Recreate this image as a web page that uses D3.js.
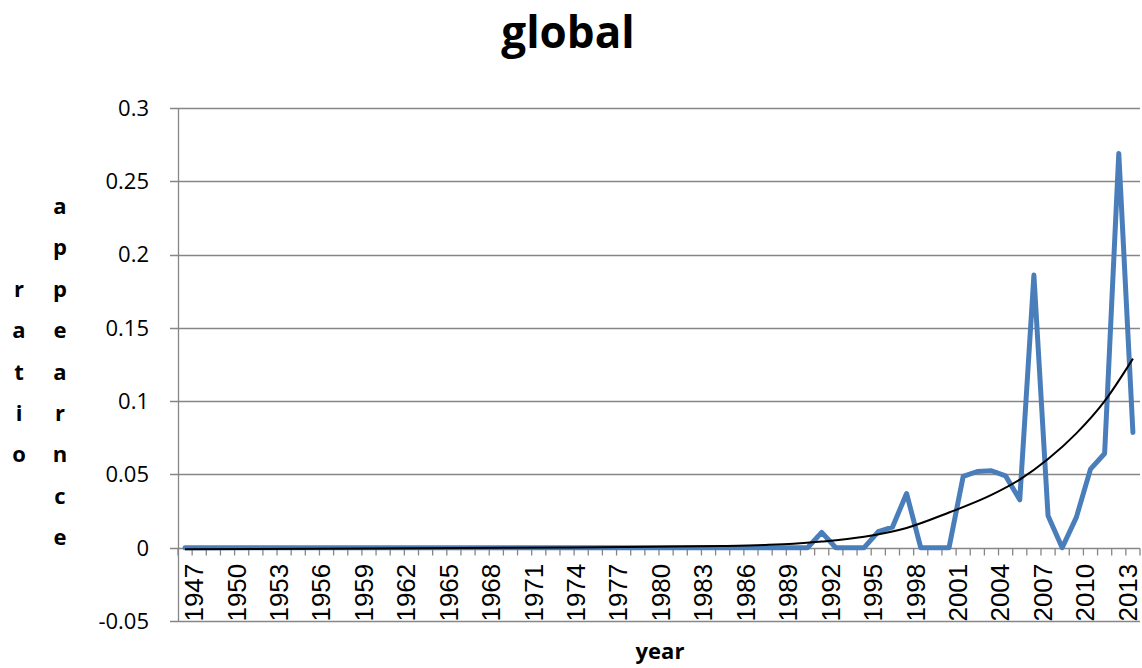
<!DOCTYPE html>
<html>
<head>
<meta charset="utf-8">
<script src="https://cdn.jsdelivr.net/npm/d3@7"></script>
<style>
  html, body { margin: 0; padding: 0; background: #fff; }
  svg { display: block; }
</style>
</head>
<body>
<svg id="chart" width="1142" height="668"></svg>
<script>
// Years on the category axis
const years = d3.range(1947, 2015);

// Share of appearances per year
const ratio = [
  0, 0, 0, 0, 0, 0, 0, 0, 0, 0,            // 1947-1956
  0, 0, 0, 0, 0, 0, 0, 0, 0, 0,            // 1957-1966
  0, 0, 0, 0, 0, 0, 0, 0, 0, 0,            // 1967-1976
  0, 0, 0, 0, 0, 0, 0, 0, 0, 0,            // 1977-1986
  0, 0, 0, 0, 0,                           // 1987-1991
  0.0105, 0, 0, 0, 0.011, 0.014, 0.037,    // 1992-1998
  0, 0, 0, 0.0486, 0.052, 0.0525, 0.049,   // 1999-2005
  0.0327, 0.186, 0.0218, 0, 0.0207,        // 2006-2010
  0.0536, 0.0643, 0.269, 0.0786            // 2011-2014
];

// Trend curve sampled at selected years
const trendYears  = [1947, 1960, 1970, 1980, 1985, 1988, 1990, 1992, 1995, 1998, 2001, 2004, 2006, 2008, 2010, 2012, 2014];
const trendValues = [-0.001, -0.0005, 0, 0.0006, 0.0012, 0.0019, 0.0027, 0.0042, 0.0075, 0.0135, 0.024, 0.036, 0.0465, 0.0605, 0.078, 0.1, 0.129];

// Axis tick labels
const yTicks = [-0.05, 0, 0.05, 0.1, 0.15, 0.2, 0.25, 0.3];
const yTickLabels = ["-0.05", "0", "0.05", "0.1", "0.15", "0.2", "0.25", "0.3"];
const xLabelYears = years.filter(y => (y - 1947) % 3 === 0);

const title = "global";
const xTitle = "year";
const yTitleCols = ["ratio", "appearnce"];

const svg = d3.select("#chart");
const plot = { left: 178, right: 1140, top: 108, bottom: 621 };

const x = d3.scaleBand().domain(years).range([plot.left, plot.right]).padding(0);
const cx = yr => x(yr) + x.bandwidth() / 2;
const y = d3.scaleLinear().domain([-0.05, 0.3]).range([plot.bottom, plot.top]);

const gridColor = "#868686";

// Horizontal gridlines with left tick marks
svg.append("g").selectAll("line").data(yTicks).join("line")
  .attr("x1", plot.left - 8).attr("x2", plot.right)
  .attr("y1", d => Math.round(y(d)) + 0.5).attr("y2", d => Math.round(y(d)) + 0.5)
  .attr("stroke", gridColor).attr("stroke-width", 1.3);

// Vertical value axis line
svg.append("line")
  .attr("x1", plot.left + 0.5).attr("x2", plot.left + 0.5)
  .attr("y1", plot.top).attr("y2", plot.bottom)
  .attr("stroke", gridColor).attr("stroke-width", 1.3);

// Category tick marks along the zero line
const y0 = Math.round(y(0)) + 0.5;
svg.append("g").selectAll("line").data(years.concat([null])).join("line")
  .attr("x1", (d, i) => plot.left + i * x.bandwidth())
  .attr("x2", (d, i) => plot.left + i * x.bandwidth())
  .attr("y1", y0).attr("y2", y0 + 7)
  .attr("stroke", gridColor).attr("stroke-width", 1.3);

// Y tick labels
svg.append("g").selectAll("text").data(yTicks).join("text")
  .attr("x", 149).attr("y", d => y(d))
  .attr("dy", "0.36em")
  .attr("text-anchor", "end")
  .attr("font-family", "'Open Sans', sans-serif")
  .attr("font-size", 22)
  .attr("fill", "#000")
  .text((d, i) => yTickLabels[i]);

// X tick labels, rotated
svg.append("g").selectAll("text").data(xLabelYears).join("text")
  .attr("transform", d => `translate(${cx(d) + 18},${y(0) + 16}) rotate(-90)`)
  .attr("text-anchor", "end")
  .attr("font-family", "'Liberation Sans', Arial, sans-serif")
  .attr("font-size", 26)
  .attr("fill", "#000")
  .text(d => d);

// Data line
const line = d3.line().x((d, i) => cx(years[i])).y(d => y(d));
svg.append("path")
  .datum(ratio)
  .attr("d", line)
  .attr("fill", "none")
  .attr("stroke", "#4A7EBB")
  .attr("stroke-width", 5)
  .attr("stroke-linejoin", "round")
  .attr("stroke-linecap", "round");

// Trend curve
const trendLine = d3.line()
  .x((d, i) => cx(trendYears[i]))
  .y(d => y(d))
  .curve(d3.curveMonotoneX);
svg.append("path")
  .datum(trendValues)
  .attr("d", trendLine)
  .attr("fill", "none")
  .attr("stroke", "#000")
  .attr("stroke-width", 2);

// Chart title
svg.append("text")
  .attr("x", 568).attr("y", 48)
  .attr("text-anchor", "middle")
  .attr("font-family", "'Open Sans', sans-serif")
  .attr("font-weight", "bold")
  .attr("font-size", 44)
  .text(title);

// X axis title
svg.append("text")
  .attr("x", 660).attr("y", 659)
  .attr("text-anchor", "middle")
  .attr("font-family", "'Open Sans', sans-serif")
  .attr("font-weight", "bold")
  .attr("font-size", 22)
  .text(xTitle);

// Y axis title, stacked letters in two columns
const rowStep = 41.4, firstRow = 214;
const colX = [19, 60];
const maxLen = d3.max(yTitleCols, s => s.length);
yTitleCols.forEach((word, c) => {
  const offset = Math.floor((maxLen - word.length) / 2);
  svg.append("g").selectAll("text").data(word.split("")).join("text")
    .attr("x", colX[c])
    .attr("y", (d, i) => firstRow + (i + offset) * rowStep)
    .attr("text-anchor", "middle")
    .attr("font-family", "'Open Sans', sans-serif")
    .attr("font-weight", "bold")
    .attr("font-size", 22)
    .text(d => d);
});
</script>
</body>
</html>
